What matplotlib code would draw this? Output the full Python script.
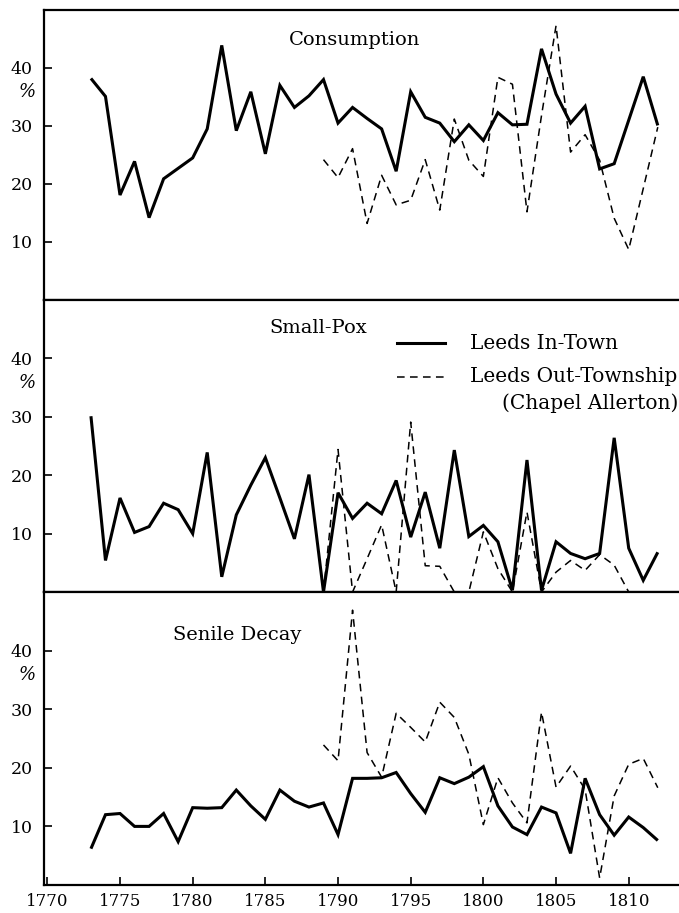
import matplotlib
matplotlib.use("Agg")
import matplotlib.pyplot as plt
from matplotlib.lines import Line2D

# ---------------- data ----------------
years_in = list(range(1773, 1813))
years_out = list(range(1789, 1813))
years_sp_out = list(range(1789, 1811))

cons_in = [38.2, 35.1, 18.1, 23.9, 14.2, 20.9, 22.7, 24.5, 29.5, 43.9,
           29.2, 35.9, 25.2, 37.0, 33.2, 35.2, 38.0, 30.5, 33.2, 31.3,
           29.5, 22.2, 35.9, 31.5, 30.5, 27.3, 30.2, 27.5, 32.3, 30.2,
           30.3, 43.3, 35.5, 30.5, 33.4, 22.6, 23.5, 31.0, 38.5, 30.1]
cons_out = [24.2, 21.1, 26.1, 13.2, 21.5, 16.4, 17.2, 24.2, 15.5, 31.2,
            24.1, 21.3, 38.4, 37.2, 15.2, 31.8, 47.3, 25.5, 28.5, 24.1,
            14.1, 8.7, 19.2, 29.8]

sp_in = [30.1, 5.4, 16.1, 10.2, 11.2, 15.2, 14.1, 10.0, 23.9, 2.6,
         13.2, 18.3, 23.0, 16.1, 9.1, 20.1, 0.0, 17.0, 12.6, 15.2,
         13.4, 19.1, 9.4, 17.1, 7.5, 24.3, 9.5, 11.4, 8.6, 0.3,
         22.6, 0.3, 8.6, 6.6, 5.7, 6.6, 26.4, 7.5, 2.0, 6.8]
sp_out = [0.0, 24.4, 0.0, 5.7, 11.5, 0.0, 29.1, 4.5, 4.4, 0.0,
          0.0, 10.3, 4.0, 0.0, 13.7, 0.0, 3.4, 5.4, 3.7, 6.4,
          4.6, 0.0]

sen_in = [6.2, 12.0, 12.2, 10.0, 10.0, 12.2, 7.4, 13.2, 13.1, 13.2,
          16.2, 13.5, 11.2, 16.2, 14.3, 13.3, 14.0, 8.6, 18.2, 18.2,
          18.3, 19.2, 15.6, 12.4, 18.3, 17.3, 18.4, 20.2, 13.5, 9.9,
          8.6, 13.3, 12.3, 5.4, 18.2, 12.0, 8.5, 11.6, 9.8, 7.6]
sen_out = [23.9, 21.2, 46.9, 22.6, 18.4, 29.3, 26.9, 24.4, 31.2, 28.6,
           22.3, 10.3, 18.3, 14.0, 10.6, 29.5, 16.7, 20.3, 16.3, 1.2,
           15.2, 20.6, 21.6, 16.6]

titles = ["Consumption", "Small-Pox", "Senile Decay"]
ytick_vals = [10, 20, 30, 40]
xtick_vals = [1770, 1775, 1780, 1785, 1790, 1795, 1800, 1805, 1810]
legend_labels = ["Leeds In-Town", "Leeds Out-Township", "(Chapel Allerton)"]

# ---------------- figure ----------------
plt.rcParams['font.family'] = ['DejaVu Serif']
W, H = 679, 913
fig = plt.figure(figsize=(W / 100, H / 100), dpi=100)

def fx(px):
    return px / W

def fy(py):
    return 1 - py / H

panels = [(10, 300), (300, 592), (592, 885)]
left = 44
series = [(years_in, cons_in, years_out, cons_out),
          (years_in, sp_in, years_sp_out, sp_out),
          (years_in, sen_in, years_out, sen_out)]
title_pos = [(355, 40), (318, 328), (237, 635)]

SOLID_LW = 2.2
DASH_LW = 1.1
DASH = (0, (5, 3.5))
axes = []
for i, ((top, bot), (xi, yi, xo, yo)) in enumerate(zip(panels, series)):
    ax = fig.add_axes([fx(left), fy(bot), fx(W - left), (bot - top) / H])
    ax.set_xlim(1769.77, 1813.46)
    ax.set_ylim(0, 50)
    ax.plot(xi, yi, color='black', lw=SOLID_LW, solid_joinstyle='miter',
            solid_capstyle='butt', clip_on=False)
    ax.plot(xo, yo, color='black', lw=DASH_LW, linestyle=DASH, clip_on=False)
    for s in ['left', 'bottom', 'top']:
        ax.spines[s].set_linewidth(1.6)
    ax.spines['right'].set_visible(False)
    ax.set_yticks(ytick_vals)
    ax.set_yticklabels([str(v) for v in ytick_vals], fontsize=12.5)
    ax.tick_params(axis='y', direction='in', length=6, width=1.2, pad=8)
    if i < 2:
        ax.set_xticks([])
    else:
        ax.set_xticks(xtick_vals)
        ax.set_xticklabels([str(v) for v in xtick_vals], fontsize=12)
        ax.tick_params(axis='x', direction='in', length=6, width=1.2, pad=6)
    tx, ty = title_pos[i]
    fig.text(fx(tx), fy(ty), titles[i], ha='center', va='center', fontsize=14)
    axes.append(ax)

# % signs under the 40 label
for ypx in [92, 383, 675]:
    fig.text(fx(27), fy(ypx), "%", ha='center', va='center', fontsize=13,
             style='italic')

# legend (drawn manually in figure coordinates)
fig.add_artist(Line2D([fx(397), fx(445)], [fy(343), fy(343)], color='black',
                      lw=SOLID_LW, transform=fig.transFigure))
fig.add_artist(Line2D([fx(397), fx(445)], [fy(377), fy(377)], color='black',
                      lw=DASH_LW, linestyle=DASH, transform=fig.transFigure))
fig.text(fx(470), fy(343), legend_labels[0], ha='left', va='center', fontsize=14.5)
fig.text(fx(470), fy(377), legend_labels[1], ha='left', va='center', fontsize=14.5)
fig.text(fx(678), fy(403), legend_labels[2], ha='right', va='center', fontsize=14.5)

fig.savefig("out.png", dpi=100)
